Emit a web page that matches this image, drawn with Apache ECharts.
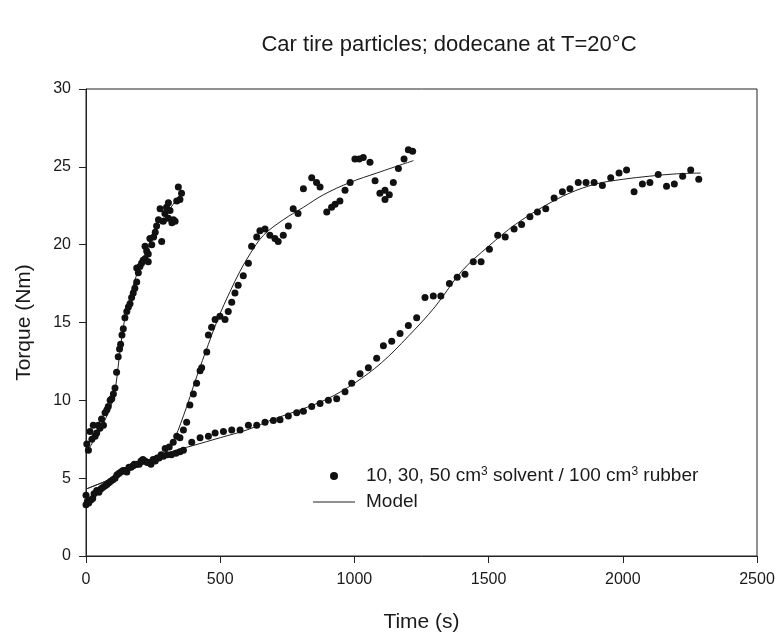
<!DOCTYPE html>
<html>
<head>
<meta charset="utf-8">
<script src="https://cdn.jsdelivr.net/npm/echarts@6/dist/echarts.min.js"></script>
<style>
  html, body { margin: 0; padding: 0; background: #fff; }
  #chart { width: 778px; height: 638px; }
</style>
</head>
<body>
<div id="chart"></div>
<script>
// Measured torque, 10 cm3 solvent
const time10 = [3,9,15,22,27,34,40,46,52,58,65,71,78,83,90,96,102,108,114,120,125,129,134,139,145,152,158,164,170,176,182,189,189,195,201,207,213,220,220,226,232,232,238,245,252,258,263,270,276,282,288,294,300,307,307,313,320,326,332,338,344,350,356];
const torque10 = [7.2,6.8,8.0,7.5,8.4,7.7,7.9,8.4,8.2,8.8,8.4,9.2,9.4,9.6,10.0,10.1,10.4,10.8,11.8,12.8,13.3,13.6,14.2,14.6,15.3,15.7,16.0,16.2,16.6,16.9,17.2,17.6,18.5,18.2,18.6,18.8,19.0,19.1,19.9,19.6,19.4,18.9,20.4,20.0,20.5,20.8,21.2,21.6,22.3,20.2,21.5,22.0,22.4,21.7,22.7,22.2,21.4,21.6,21.5,22.8,23.7,22.9,23.3];

// Measured torque, 30 cm3 solvent
const time30 = [0,10,25,40,55,70,85,100,115,130,145,160,175,190,205,220,235,250,265,280,295,310,325,338,350,363,375,387,400,412,425,431,450,456,468,481,499,518,530,543,555,567,586,605,617,636,648,667,685,704,716,735,754,772,790,810,841,859,872,897,915,928,946,965,984,1002,1018,1033,1058,1077,1095,1114,1114,1130,1145,1164,1185,1201,1217];
const torque30 = [3.9,3.4,3.7,4.2,4.3,4.5,4.7,4.9,5.2,5.4,5.5,5.7,5.8,5.9,6.1,6.1,6.0,6.2,6.3,6.5,6.9,7.0,7.3,7.7,7.6,8.1,8.6,9.7,10.4,11.1,11.9,12.1,13.1,14.2,14.7,15.2,15.4,15.2,15.7,16.3,16.9,17.4,18.0,18.8,19.9,20.5,20.9,21.0,20.6,20.4,20.2,20.6,21.2,22.3,22.0,23.6,24.3,24.0,23.7,22.1,22.4,22.6,22.8,23.5,24.0,25.5,25.5,25.6,25.3,24.1,23.3,23.5,22.9,23.2,24.0,24.9,25.5,26.1,26.0];

// Measured torque, 50 cm3 solvent
const time50 = [0,5,18,30,48,62,78,92,108,122,138,152,168,180,198,212,228,242,258,272,288,302,318,335,350,363,394,425,456,481,512,543,574,605,636,667,698,723,754,785,810,841,872,903,934,965,990,1021,1052,1083,1108,1139,1170,1201,1232,1263,1294,1322,1354,1383,1412,1443,1472,1503,1534,1562,1595,1623,1654,1682,1713,1744,1775,1803,1834,1863,1893,1924,1955,1986,2014,2042,2073,2101,2132,2163,2192,2223,2253,2283];
const torque50 = [3.3,3.5,3.6,4.0,4.1,4.4,4.6,4.8,5.0,5.3,5.5,5.4,5.7,5.9,5.9,6.2,6.0,5.9,6.1,6.3,6.4,6.5,6.5,6.6,6.7,6.8,7.3,7.6,7.7,7.9,8.0,8.1,8.1,8.4,8.4,8.6,8.7,8.75,9.0,9.2,9.3,9.6,9.8,10.0,10.1,10.55,11.1,11.7,12.1,12.7,13.5,13.8,14.3,14.8,15.3,16.6,16.7,16.7,17.5,17.9,18.1,18.9,18.9,19.7,20.6,20.5,21.0,21.3,21.8,22.1,22.3,23.0,23.4,23.6,24.0,24.0,24.0,23.8,24.3,24.6,24.8,23.4,23.9,24.0,24.5,23.75,23.9,24.4,24.8,24.2];

// Model curves
const modelTime10 = [0,25,50,75,100,110,120,130,140,150,165,180,200,225,250,275,300,325,350];
const modelTorque10 = [6.6,7.3,8.0,8.9,10.0,10.8,12.2,13.6,14.8,15.7,16.7,17.6,18.6,19.6,20.5,21.3,22.0,22.6,23.2];
const modelTime30 = [0,100,200,280,320,363,412,456,493,537,574,611,661,735,810,884,984,1083,1220];
const modelTorque30 = [4.3,5.0,5.8,6.4,7.2,9.0,11.5,13.6,15.3,17.0,18.3,19.4,20.6,21.6,22.4,23.2,24.0,24.6,25.4];
const modelTime50 = [0,100,200,300,400,500,600,700,800,900,1000,1100,1200,1300,1400,1500,1600,1700,1800,1900,2000,2100,2200,2290];
const modelTorque50 = [4.3,5.0,5.8,6.6,7.1,7.6,8.1,8.8,9.4,10.1,11.1,12.4,14.1,16.0,18.3,19.9,21.3,22.4,23.3,23.9,24.2,24.4,24.55,24.6];

const xTicks = { min: 0, max: 2500, step: 500 };
const yTicks = { min: 0, max: 30, step: 5 };

const pairs = (xs, ys) => xs.map((x, i) => [x, ys[i]]);

const FONT = '"Liberation Sans", Arial, sans-serif';
const INK = '#111';
const TEXT = '#1a1a1a';
const dataName = 'measured';
const modelName = 'Model';

const scatter = (xs, ys) => ({
  type: 'scatter', name: dataName, data: pairs(xs, ys),
  symbol: 'circle', symbolSize: 7,
  itemStyle: { color: INK, opacity: 1 }, z: 3
});
const model = (xs, ys) => ({
  type: 'line', name: modelName, data: pairs(xs, ys),
  smooth: 0.35, showSymbol: false, symbol: 'none',
  lineStyle: { color: '#222', width: 1 }, itemStyle: { color: '#222' }, z: 2
});

// thin horizontal stroke used as the legend key for the model curves
const lineKey = 'path://M0,0h0.01v0.01h-0.01Z M0,3.5h42v1h-42Z M0,7.99h0.01v0.01h-0.01Z';

const chart = echarts.init(document.getElementById('chart'), null, { renderer: 'canvas' });
chart.setOption({
  animation: false,
  backgroundColor: '#fff',
  textStyle: { fontFamily: FONT },
  title: {
    text: 'Car tire particles; dodecane at T=20°C',
    left: 444, top: 29, textAlign: 'center',
    textStyle: { fontFamily: FONT, fontSize: 22, fontWeight: 'normal', color: TEXT }
  },
  grid: {
    left: 86, top: 89, width: 671, height: 472,
    show: true, borderColor: '#222', borderWidth: 1, backgroundColor: 'transparent'
  },
  legend: {
    orient: 'vertical', left: 313, top: 466, padding: 0,
    itemWidth: 42, itemHeight: 8, itemGap: 6,
    data: [
      { name: dataName, icon: 'circle' },
      { name: modelName, icon: lineKey, itemStyle: { color: '#222' } }
    ],
    formatter: n => n === dataName
      ? '10, 30, 50 cm{sup|3} solvent / 100 cm{sup|3} rubber'
      : 'Model',
    textStyle: {
      fontFamily: FONT, fontSize: 19, color: TEXT, padding: [0, 0, 0, 6], lineHeight: 20,
      rich: { sup: { fontFamily: FONT, fontSize: 12, verticalAlign: 'top', lineHeight: 12, padding: [0, 0, 8, 0], color: TEXT } }
    }
  },
  xAxis: {
    type: 'value', min: xTicks.min, max: xTicks.max, interval: xTicks.step,
    name: 'Time (s)', nameLocation: 'middle', nameGap: 56,
    nameTextStyle: { fontFamily: FONT, fontSize: 21, color: TEXT },
    axisLine: { show: true, lineStyle: { color: '#222', width: 1 } },
    axisTick: { show: true, inside: false, length: 7, lineStyle: { color: '#222' } },
    axisLabel: { margin: 16, fontFamily: FONT, fontSize: 16, color: TEXT, formatter: v => String(v) },
    splitLine: { show: false }
  },
  yAxis: {
    type: 'value', min: yTicks.min, max: yTicks.max, interval: yTicks.step,
    name: 'Torque (Nm)', nameLocation: 'middle', nameGap: 51, nameRotate: 90,
    nameTextStyle: { fontFamily: FONT, fontSize: 21, color: TEXT },
    axisLine: { show: true, lineStyle: { color: '#222', width: 1 } },
    axisTick: { show: true, inside: false, length: 7, lineStyle: { color: '#222' } },
    axisLabel: { margin: 15, fontFamily: FONT, fontSize: 16, color: TEXT },
    splitLine: { show: false }
  },
  series: [
    model(modelTime10, modelTorque10),
    model(modelTime30, modelTorque30),
    model(modelTime50, modelTorque50),
    scatter(time10, torque10),
    scatter(time30, torque30),
    scatter(time50, torque50)
  ]
});
</script>
</body>
</html>
